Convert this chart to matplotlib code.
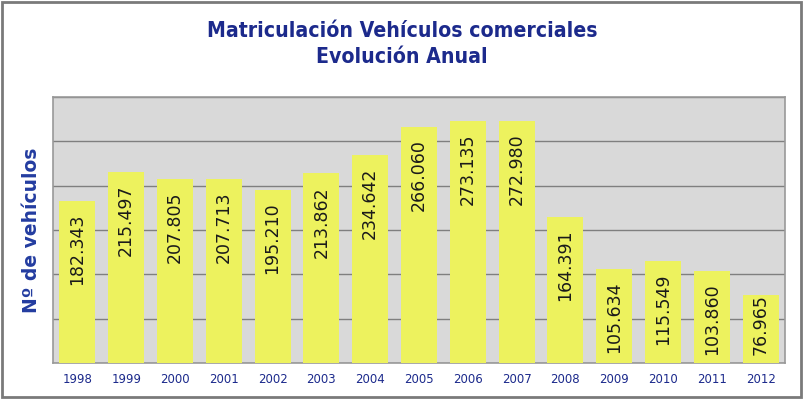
import matplotlib
matplotlib.use('Agg')
import matplotlib.pyplot as plt
from matplotlib.ticker import MultipleLocator
from matplotlib.patches import Rectangle

years = ['1998', '1999', '2000', '2001', '2002', '2003', '2004', '2005',
         '2006', '2007', '2008', '2009', '2010', '2011', '2012']
values = [182343, 215497, 207805, 207713, 195210, 213862, 234642, 266060,
          273135, 272980, 164391, 105634, 115549, 103860, 76965]
labels = ['182.343', '215.497', '207.805', '207.713', '195.210', '213.862',
          '234.642', '266.060', '273.135', '272.980', '164.391', '105.634',
          '115.549', '103.860', '76.965']

blue = '#1c2a8c'

fig = plt.figure(figsize=(8.04, 3.99), dpi=100)
ax = fig.add_axes([53 / 804, 1 - 363 / 399, 732 / 804, 266 / 399])

x = range(len(years))
ax.bar(x, values, width=0.74, color='#edf25e', zorder=3)

ax.set_xlim(-0.5, len(years) - 0.5)
ax.set_ylim(0, 300000)

fig.canvas.draw()
r = fig.canvas.get_renderer()
for i, v in enumerate(values):
    t = ax.annotate(labels[i], (i, v), xytext=(0, -9), textcoords='offset points',
                    rotation=90, ha='center', va='top', fontsize=12.5,
                    color='#1a1a1a', zorder=4)
    bb = t.get_window_extent(r)
    axBottom = ax.transData.transform((0, 0))[1]
    if bb.y0 < axBottom + 8:
        # short bar: keep the label just above the axis
        t.set_va('bottom')
        t.xy = (i, 0)
        t.set_position((0, 6))

ax.yaxis.set_major_locator(MultipleLocator(50000))
ax.set_yticklabels([])
ax.tick_params(axis='y', length=0)
ax.tick_params(axis='x', length=0, pad=7, labelsize=8.5, labelcolor=blue)
ax.set_xticks(list(x))
ax.set_xticklabels(years)
ax.set_facecolor('#d9d9d9')
ax.grid(axis='y', color='#7f7f7f', linewidth=1, zorder=1)
for s in ax.spines.values():
    s.set_color('#999999')
    s.set_linewidth(1.2)

ax.set_ylabel('Nº de vehículos', fontsize=13.5, fontweight='bold', color='#233ca0',
              labelpad=5)

fig.text(0.5, 1 - 31 / 399, 'Matriculación Vehículos comerciales', ha='center',
         va='center', fontsize=15.2, fontweight='bold', color=blue,
         fontstretch='condensed')
fig.text(0.5, 1 - 57 / 399, 'Evolución Anual', ha='center', va='center',
         fontsize=15.2, fontweight='bold', color=blue, fontstretch='condensed')

fig.patches.append(Rectangle((0.002, 0.004), 0.994, 0.99, transform=fig.transFigure,
                             fill=False, edgecolor='#7a7a7a', linewidth=2))

plt.savefig('out.png', dpi=100)
